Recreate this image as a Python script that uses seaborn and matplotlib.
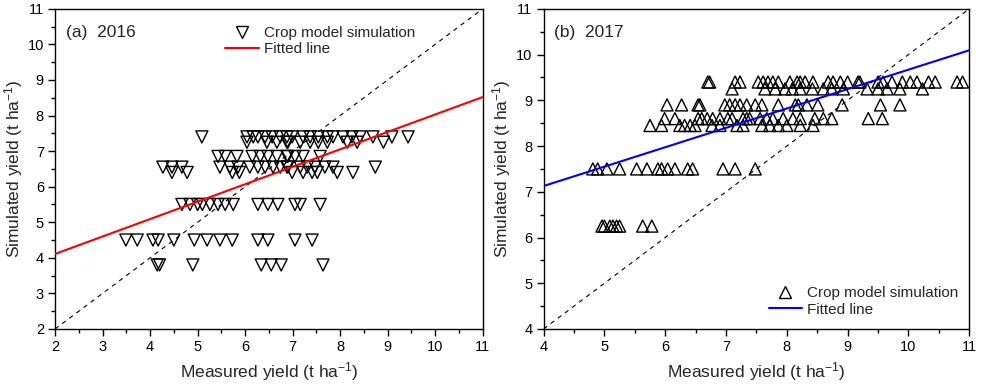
import numpy as np
import pandas as pd
import matplotlib
matplotlib.use("Agg")
import matplotlib.pyplot as plt
import seaborn as sns
from matplotlib.ticker import MultipleLocator
from matplotlib.lines import Line2D

# ---------------- data ----------------
# 2016: measured (x) and simulated (y) yields, t/ha
x16_740 = [5.09, 6.04, 6.17, 6.27, 6.42, 6.57, 6.74, 6.88, 6.99, 7.22, 7.37, 7.54,
           7.73, 7.85, 8.06, 8.25, 8.42, 8.69, 9.09, 9.43]
x16_725 = [6.04, 6.46, 6.67, 6.88, 6.90, 7.16, 7.37, 7.54, 7.73, 8.15, 8.36, 8.91]
x16_685 = [5.43, 5.58, 5.83, 6.15, 6.32, 6.48, 6.67, 6.88, 6.90, 7.05, 7.22, 7.58]
x16_655 = [4.27, 4.46, 4.67, 5.47, 5.68, 5.85, 6.10, 6.27, 6.42, 6.59, 6.74, 6.88,
           6.90, 7.16, 7.31, 7.47, 7.68, 7.85, 8.74]
x16_640 = [4.46, 4.78, 5.73, 5.88, 6.99, 7.22, 7.41, 7.52, 7.94, 8.27]
x16_550 = [4.67, 4.84, 5.00, 5.10, 5.26, 5.43, 5.58, 5.75, 6.27, 6.48, 6.69, 7.05,
           7.16, 7.58]
x16_450 = [3.49, 3.73, 4.06, 4.17, 4.50, 4.93, 5.20, 5.47, 5.73, 6.27, 6.48, 7.05, 7.41]
x16_380 = [4.15, 4.20, 4.90, 6.34, 6.55, 6.76, 7.64]
y16_levels = [7.40, 7.25, 6.85, 6.55, 6.40, 5.50, 4.50, 3.80]

# 2017
x17_940 = [6.70, 6.73, 7.15, 7.23, 7.53, 7.61, 7.69, 7.77, 7.86, 8.05, 8.17, 8.22,
           8.30, 8.43, 8.68, 8.76, 8.88, 9.00, 9.17, 9.20, 9.50, 9.58, 9.73, 9.90,
           10.03, 10.14, 10.33, 10.44, 10.80, 10.89]
x17_925 = [7.10, 7.64, 7.81, 7.97, 8.09, 8.22, 8.42, 8.60, 8.74, 8.93, 9.32, 9.50,
           9.65, 9.86, 10.23]
x17_890 = [6.03, 6.27, 6.54, 6.57, 6.98, 7.06, 7.15, 7.23, 7.34, 7.48, 7.59, 7.86,
           8.14, 8.19, 8.33, 8.51, 8.91, 9.54, 9.86]
x17_860 = [5.99, 6.16, 6.54, 6.60, 6.69, 6.78, 6.90, 7.03, 7.10, 7.28, 7.34, 7.39,
           7.56, 7.67, 7.77, 7.94, 8.10, 8.22, 8.46, 8.60, 8.74, 9.34, 9.57]
x17_845 = [5.75, 5.94, 6.24, 6.32, 6.41, 6.49, 6.77, 6.90, 7.18, 7.28, 7.59, 7.72,
           7.86, 8.00, 8.22, 8.43]
x17_750 = [4.81, 4.89, 5.04, 5.25, 5.53, 5.70, 5.88, 5.94, 6.04, 6.16, 6.37, 6.45,
           6.95, 7.15, 7.48]
x17_625 = [4.96, 5.00, 5.09, 5.14, 5.20, 5.25, 5.63, 5.78]
y17_levels = [9.40, 9.25, 8.90, 8.60, 8.45, 7.50, 6.25]

# fitted lines: slope, intercept
fit16 = [0.49, 3.13]
fit17 = [0.424, 5.43]

x16_groups = [x16_740, x16_725, x16_685, x16_655, x16_640, x16_550, x16_450, x16_380]
x17_groups = [x17_940, x17_925, x17_890, x17_860, x17_845, x17_750, x17_625]

def build(groups, levels):
    xs, ys = [], []
    for g, lv in zip(groups, levels):
        xs += g
        ys += [lv] * len(g)
    return pd.DataFrame({"measured": xs, "simulated": ys})

df16 = build(x16_groups, y16_levels)
df17 = build(x17_groups, y17_levels)

# ---------------- plot ----------------
sns.set_theme(style="white")
plt.rcParams["font.family"] = ["Liberation Sans", "DejaVu Sans"]
plt.rcParams["mathtext.fontset"] = "custom"
plt.rcParams["mathtext.rm"] = "Liberation Sans"
plt.rcParams["mathtext.it"] = "Liberation Sans"

fig = plt.figure(figsize=(9.83, 3.85), dpi=100)
ax1 = fig.add_axes([0.056, 0.1455, 0.435, 0.8315])
ax2 = fig.add_axes([0.553, 0.1455, 0.433, 0.8315])

def style_axes(ax, lo, hi):
    ax.set_xlim(lo, hi)
    ax.set_ylim(lo, hi)
    ax.xaxis.set_major_locator(MultipleLocator(1))
    ax.yaxis.set_major_locator(MultipleLocator(1))
    ax.xaxis.set_minor_locator(MultipleLocator(0.5))
    ax.yaxis.set_minor_locator(MultipleLocator(0.5))
    ax.tick_params(which="major", direction="out", length=5, width=1, colors="black",
                   labelsize=10.5, bottom=True, left=True, top=False, right=False, pad=3)
    ax.tick_params(which="minor", direction="out", length=3, width=1, colors="black",
                   bottom=True, left=True, top=False, right=False)
    for s in ax.spines.values():
        s.set_color("black")
        s.set_linewidth(1.0)
    ax.plot([lo, hi], [lo, hi], ls=(0, (4, 4)), color="black", lw=0.8, zorder=1)

style_axes(ax1, 2, 11)
style_axes(ax2, 4, 11)

sns.scatterplot(data=df16, x="measured", y="simulated", ax=ax1, marker="v", s=75,
                facecolor="none", edgecolor="black", linewidth=1.0, zorder=3)
sns.scatterplot(data=df17, x="measured", y="simulated", ax=ax2, marker="^", s=75,
                facecolor="none", edgecolor="black", linewidth=1.0, zorder=3)

xx1 = np.array([2, 11])
ax1.plot(xx1, fit16[0] * xx1 + fit16[1], color="#ff0000", lw=1.5, zorder=4)
xx2 = np.array([4, 11])
ax2.plot(xx2, fit17[0] * xx2 + fit17[1], color="#0000ff", lw=1.5, zorder=4)

for ax in (ax1, ax2):
    ax.set_xlabel("Measured yield (t ha$^{-1}$)", fontsize=12.5, labelpad=4)
    ax.set_ylabel("Simulated yield (t ha$^{-1}$)", fontsize=12.5, labelpad=2)

ax1.text(0.025, 0.925, "(a)  2016", transform=ax1.transAxes, fontsize=12.5, va="center")
ax2.text(0.025, 0.925, "(b)  2017", transform=ax2.transAxes, fontsize=12.5, va="center")

h16 = [Line2D([], [], marker="v", ls="none", mfc="none", mec="black", ms=8, mew=1.0),
       Line2D([], [], color="#ff0000", lw=1.5)]
h17 = [Line2D([], [], marker="^", ls="none", mfc="none", mec="black", ms=8, mew=1.0),
       Line2D([], [], color="#0000ff", lw=1.5)]
ax1.legend(h16, ["Crop model simulation", "Fitted line"], loc="upper left",
           bbox_to_anchor=(0.37, 0.985), frameon=False, fontsize=11,
           handlelength=2.2, handletextpad=0.3, labelspacing=0.15, borderaxespad=0.4)
ax2.legend(h17, ["Crop model simulation", "Fitted line"], loc="lower left",
           bbox_to_anchor=(0.50, 0.0), frameon=False, fontsize=11,
           handlelength=2.2, handletextpad=0.3, labelspacing=0.15, borderaxespad=0.4)

fig.savefig("out.png", dpi=100)
